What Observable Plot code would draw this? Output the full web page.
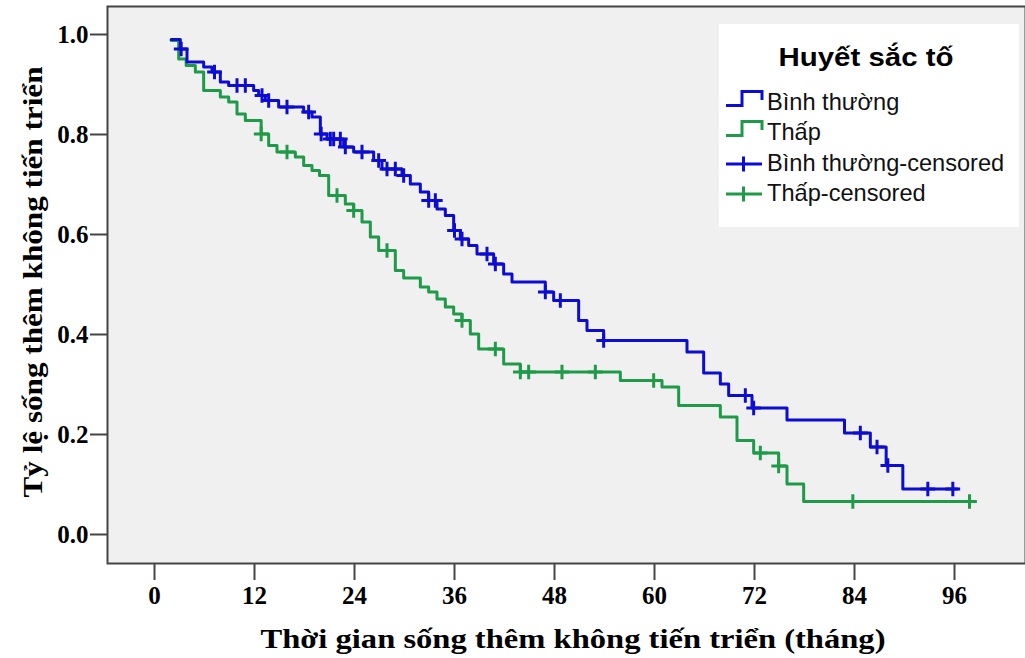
<!DOCTYPE html>
<html>
<head>
<meta charset="utf-8">
<script src="https://cdn.jsdelivr.net/npm/d3@7"></script>
<script src="https://cdn.jsdelivr.net/npm/@observablehq/plot@0.6"></script>
<style>
  html, body { margin: 0; padding: 0; background: #ffffff; }
  #wrap { position: relative; width: 1025px; height: 658px; overflow: hidden; }
  #legend { position: absolute; left: 0; top: 0; pointer-events: none; }
</style>
</head>
<body>
<div id="wrap"></div>
<script>
// ---- Data ----
const groups = ["Bình thường", "Thấp"];
const groupColors = ["#0c0cd2", "#1f9a48"];

// Step points of the Kaplan–Meier curves: time (months) and survival after the drop
const normalTimes = [2.0, 3.1, 3.9, 5.9, 6.9, 7.9, 8.9, 11.9, 12.5, 13.3, 14.9, 17.9, 18.9, 19.9, 20.7, 22.7, 23.9, 26.3, 27.3, 29.7, 30.7, 31.9, 32.9, 33.9, 34.9, 35.9, 36.7, 37.7, 38.7, 40.7, 41.9, 42.9, 46.9, 47.9, 50.9, 51.9, 53.9, 63.9, 65.9, 67.9, 68.9, 71.7, 75.9, 82.8, 85.9, 87.8, 89.8, 96.3];
const normalSurv  = [0.99, 0.971, 0.945, 0.935, 0.925, 0.905, 0.898, 0.888, 0.878, 0.868, 0.855, 0.845, 0.835, 0.801, 0.791, 0.775, 0.765, 0.748, 0.731, 0.718, 0.701, 0.685, 0.668, 0.651, 0.638, 0.608, 0.591, 0.578, 0.561, 0.541, 0.521, 0.505, 0.485, 0.468, 0.428, 0.408, 0.388, 0.365, 0.323, 0.301, 0.278, 0.253, 0.229, 0.203, 0.175, 0.138, 0.091, 0.091];

const lowTimes = [2.0, 2.9, 3.8, 4.9, 5.9, 7.9, 8.9, 9.9, 10.9, 12.8, 13.7, 14.7, 16.9, 17.9, 18.9, 19.8, 20.9, 22.9, 23.9, 24.9, 25.9, 26.9, 28.9, 29.9, 31.9, 32.9, 33.9, 34.9, 35.9, 36.9, 37.9, 38.9, 41.9, 43.9, 55.9, 60.9, 62.9, 67.9, 69.9, 71.9, 74.9, 75.9, 77.9, 98.3];
const lowSurv  = [0.988, 0.951, 0.938, 0.925, 0.888, 0.875, 0.865, 0.841, 0.828, 0.801, 0.778, 0.765, 0.755, 0.738, 0.728, 0.718, 0.678, 0.661, 0.648, 0.625, 0.595, 0.568, 0.528, 0.513, 0.495, 0.485, 0.471, 0.455, 0.441, 0.428, 0.401, 0.371, 0.341, 0.325, 0.308, 0.295, 0.258, 0.235, 0.188, 0.163, 0.137, 0.101, 0.066, 0.066];

// Censored observations (months)
const normalCensored = [3.2, 7.2, 9.9, 10.9, 12.9, 13.7, 15.9, 18.5, 20.0, 21.1, 21.5, 22.3, 22.9, 24.9, 26.9, 27.9, 28.9, 29.9, 32.9, 33.7, 36.0, 36.9, 39.9, 40.9, 46.9, 48.7, 53.9, 70.9, 71.9, 84.7, 86.7, 88.0, 92.8, 95.8];
const lowCensored = [12.8, 15.9, 21.9, 23.9, 27.9, 36.9, 40.9, 43.9, 44.9, 48.9, 52.9, 59.9, 72.7, 74.9, 83.8, 97.8];

// Axes
const xTicks = [0, 12, 24, 36, 48, 60, 72, 84, 96];
const yTicks = [0.0, 0.2, 0.4, 0.6, 0.8, 1.0];
const xTitle = "Thời gian sống thêm không tiến triển (tháng)";
const yTitle = "Tỷ lệ sống thêm không tiến triển";
const legendTitle = "Huyết sắc tố";
const legendLabels = ["Bình thường", "Thấp", "Bình thường-censored", "Thấp-censored"];

// ---- Build tables ----
function curveRows(times, surv) {
  return times.map((t, i) => ({t, s: surv[i]}));
}
function censorRows(ctimes, times, surv) {
  return ctimes.map(c => {
    let s = surv[0];
    for (let i = 0; i < times.length; i++) if (times[i] <= c + 1e-9) s = surv[i];
    return {t: c, s};
  });
}
const normalRows = curveRows(normalTimes, normalSurv);
const lowRows = curveRows(lowTimes, lowSurv);
const normalCens = censorRows(normalCensored, normalTimes, normalSurv);
const lowCens = censorRows(lowCensored, lowTimes, lowSurv);

const serif = "'Liberation Serif', 'Times New Roman', serif";
const sans = "'Liberation Sans', Arial, sans-serif";

const chart = Plot.plot({
  width: 1025,
  height: 658,
  marginLeft: 107,
  marginRight: 0,
  marginTop: 6,
  marginBottom: 95,
  style: {fontFamily: serif, fontSize: "25px", fontWeight: "bold", background: "#ffffff", color: "#000000"},
  x: {domain: [-5.64, 104.52]},
  y: {domain: [-0.058, 1.056]},
  marks: [
    Plot.frame({fill: "#f0f0f0", stroke: "none"}),
    Plot.line(lowRows, {x: "t", y: "s", curve: "step-after", stroke: groupColors[1], strokeWidth: 3}),
    Plot.line(normalRows, {x: "t", y: "s", curve: "step-after", stroke: groupColors[0], strokeWidth: 3}),
    Plot.dot(lowCens, {x: "t", y: "s", symbol: "plus", r: 4.8, stroke: groupColors[1], strokeWidth: 3}),
    Plot.dot(normalCens, {x: "t", y: "s", symbol: "plus", r: 4.8, stroke: groupColors[0], strokeWidth: 3}),
    Plot.frame({stroke: "#444444", strokeWidth: 2}),
    Plot.axisX({ticks: xTicks, tickSize: 17, tickPadding: 6, label: null, stroke: "#444444", strokeWidth: 2, fill: "#000000"}),
    Plot.axisY({ticks: yTicks, tickFormat: d3.format(".1f"), tickSize: 17, tickPadding: 2, label: null, stroke: "#444444", strokeWidth: 2, fill: "#000000"})
  ]
});

const svg = d3.select(chart);
svg.append("text")
  .attr("x", 573).attr("y", 648)
  .attr("text-anchor", "middle")
  .attr("font-family", serif).attr("font-size", 27).attr("font-weight", "bold")
  .attr("fill", "#000")
  .attr("textLength", 625).attr("lengthAdjust", "spacingAndGlyphs")
  .text(xTitle);
svg.append("text")
  .attr("transform", "translate(42,282) rotate(-90)")
  .attr("text-anchor", "middle")
  .attr("font-family", serif).attr("font-size", 28).attr("font-weight", "bold")
  .attr("fill", "#000")
  .attr("textLength", 431).attr("lengthAdjust", "spacingAndGlyphs")
  .text(yTitle);

document.getElementById("wrap").appendChild(chart);

// ---- Legend (overlay) ----
const leg = d3.select("#wrap").append("svg")
  .attr("id", "legend").attr("width", 1025).attr("height", 658);
leg.append("rect").attr("x", 719).attr("y", 24).attr("width", 300).attr("height", 203).attr("fill", "#ffffff");
leg.append("text").attr("x", 866).attr("y", 66).attr("text-anchor", "middle")
  .attr("font-family", sans).attr("font-size", 25).attr("font-weight", "bold").attr("fill", "#000")
  .attr("textLength", 175).attr("lengthAdjust", "spacingAndGlyphs")
  .text(legendTitle);
const baselines = [110, 140, 171, 201];
legendLabels.forEach((lab, i) => {
  const color = groupColors[i % 2];
  const b = baselines[i];
  if (i < 2) {
    const low = b - 4.5, high = b - 18.5, right = b - 10;
    leg.append("path")
      .attr("d", `M726,${low}H742V${high}H762V${right}`)
      .attr("fill", "none").attr("stroke", color).attr("stroke-width", 3);
  } else {
    const cy = b - 7;
    leg.append("path")
      .attr("d", `M726,${cy}H762M743.5,${cy - 7.5}V${cy + 7.5}`)
      .attr("fill", "none").attr("stroke", color).attr("stroke-width", 3);
  }
  leg.append("text").attr("x", 767).attr("y", b)
    .attr("font-family", sans).attr("font-size", 23.6).attr("fill", "#111")
    .text(lab);
});
</script>
</body>
</html>
